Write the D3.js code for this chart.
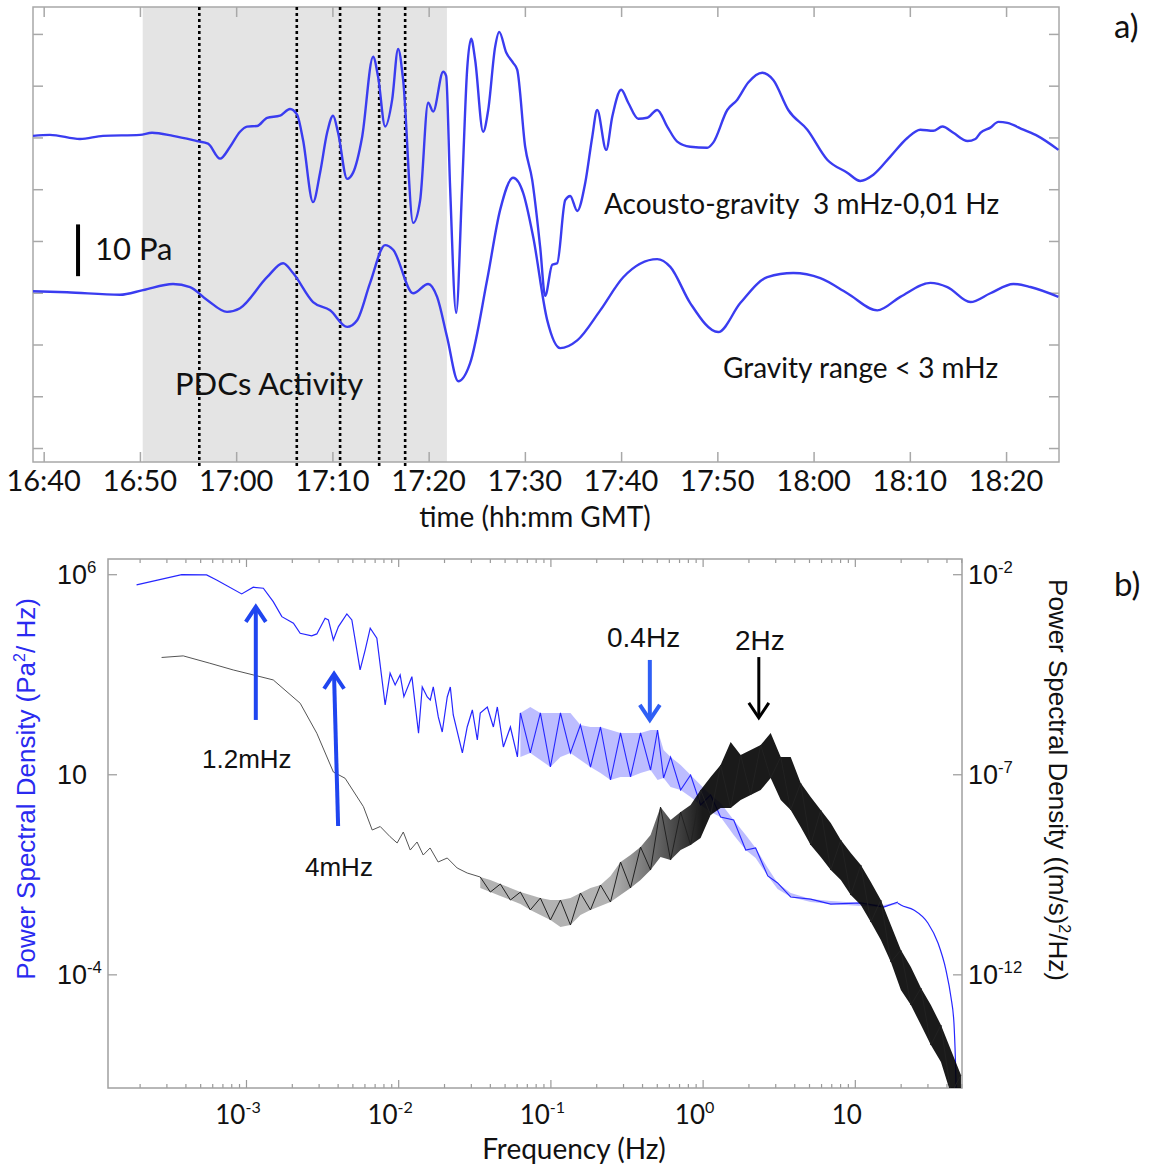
<!DOCTYPE html>
<html>
<head>
<meta charset="utf-8">
<script src="https://cdn.jsdelivr.net/npm/d3@7"></script>
<style>
body { margin: 0; background: #fff; }
text { font-family: Lato, sans-serif; fill: #111; }
.sans { font-family: "Liberation Sans", Arial, sans-serif; }
</style>
</head>
<body>
<svg id="fig" width="1153" height="1166"></svg>
<script>

// ---------- panel a : pressure traces (time in minutes after 16:00, values in Pa) ----------
var acT = [38.89, 40.65, 43.77, 46.16, 50.01, 51.26, 53.44, 55.93, 57.08, 58.33,
  59.37, 60.40, 61.13, 62.17, 63.21, 64.56, 65.60, 66.33, 66.95, 67.99,
  68.72, 69.45, 70.07, 70.59, 71.53, 72.15, 73.09, 74.23, 74.75, 75.48,
  76.21, 76.83, 77.35, 78.39, 79.12, 79.95, 80.47, 81.51, 81.82, 82.23,
  82.86, 83.48, 84.00, 84.42, 84.83, 85.66, 86.19, 86.91, 87.33, 88.06,
  88.78, 89.20, 90.03, 90.76, 91.59, 92.11, 92.84, 93.36, 94.19, 94.71,
  95.44, 96.27, 97.00, 97.51, 98.45, 99.08, 100.01, 100.74, 101.78, 102.71,
  103.75, 104.79, 105.83, 107.18, 108.95, 109.57, 111.03, 112.07, 113.21, 114.67,
  115.81, 117.37, 119.35, 121.42, 123.50, 124.85, 126.21, 127.97, 129.74, 131.09,
  132.44, 133.38, 134.52, 136.00, 136.81, 137.33, 138.37, 139.20, 140.14, 141.80,
  143.26, 145.44];
var acP = [20.3, 20.5, 19.7, 20.3, 20.5, 20.9, 20.3, 19.3, 18.8, 15.9,
  18.2, 21.1, 22.1, 22.2, 23.8, 24.2, 25.5, 24.4, 19.5, 7.5,
  13.2, 20.9, 24.2, 20.9, 12.0, 13.2, 20.1, 35.6, 31.7, 22.1,
  27.3, 37.1, 31.1, 3.5, 7.9, 26.7, 25.0, 32.7, 31.9, 10.4,
  -13.9, 10.4, 33.1, 39.1, 35.0, 21.1, 25.3, 37.5, 40.4, 36.4,
  34.4, 33.1, 18.2, 11.8, -1.2, -10.6, -4.6, -4.3, 7.9, 8.7,
  5.8, 11.2, 20.1, 25.3, 17.6, 24.0, 29.2, 26.7, 23.6, 23.8,
  25.3, 22.1, 19.2, 18.2, 18.0, 19.0, 25.3, 27.3, 30.6, 32.5,
  31.1, 25.3, 21.5, 15.7, 13.2, 11.6, 12.8, 16.3, 19.9, 21.5,
  21.3, 22.1, 20.9, 19.3, 19.7, 20.9, 21.9, 23.0, 22.8, 21.5,
  20.3, 17.6];

var grT = [38.89, 42.42, 47.93, 50.32, 53.44, 55.21, 56.98, 59.05, 60.40, 63.21,
  64.88, 65.91, 67.99, 69.76, 71.53, 72.57, 73.92, 75.48, 76.31, 78.39,
  79.95, 80.88, 81.92, 83.07, 84.31, 86.08, 87.43, 88.78, 89.82, 90.86,
  92.32, 93.67, 95.44, 97.83, 100.22, 103.75, 105.11, 107.18, 110.09, 112.38,
  115.19, 117.89, 120.70, 123.50, 126.62, 129.01, 132.13, 133.90, 136.29, 138.37,
  140.76, 142.53, 145.44];
var grP = [-9.7, -9.9, -10.4, -9.5, -8.3, -8.9, -11.4, -13.7, -13.0, -7.0,
  -4.3, -6.2, -11.8, -13.4, -16.6, -15.3, -8.1, -0.8, -1.7, -10.1,
  -8.3, -10.8, -18.6, -27.1, -23.6, -7.5, 6.0, 12.2, 9.3, 0.8,
  -15.3, -20.7, -19.2, -13.4, -7.0, -3.5, -5.0, -12.0, -17.6, -12.0,
  -7.0, -6.2, -7.2, -10.1, -13.4, -10.8, -8.1, -8.9, -11.8, -10.1,
  -8.3, -8.9, -10.8];

var timeTicks = [40, 50, 60, 70, 80, 90, 100, 110, 120, 130, 140];
var paTicks = [-40, -30, -20, -10, 0, 10, 20, 30, 40];
var pdcSpan = [50.29, 81.9];
var pdcMarks = [56.17, 66.3, 70.8, 74.86, 77.56];
var scaleBar = [43.57, 3.2, -6.8];   // time, top Pa, bottom Pa (10 Pa)

// ---------- panel b : spectra (Hz, Pa^2/Hz on the left, (m/s)^2/Hz on the right) ----------
var blueLow = [[1.91e-4, 5.4e5], [3.78e-4, 9.8e5], [5.51e-4, 9.6e5], [6.41e-4, 7.2e5], [9.37e-4, 3.22e5],
  [1.117e-3, 4.73e5], [1.30e-3, 4.47e5], [1.51e-3, 2.07e5], [1.72e-3, 8.7e4], [2.05e-3, 5.96e4],
  [2.27e-3, 3.35e4], [2.70e-3, 2.87e4], [2.92e-3, 3.22e4], [3.31e-3, 7.94e4], [3.48e-3, 7.2e4],
  [3.75e-3, 2.28e4], [4.05e-3, 4.9e4], [4.60e-3, 1.02e5], [4.96e-3, 7.2e4], [5.62e-3, 4.05e3],
  [6.07e-3, 1.28e4], [6.55e-3, 4.47e4], [7.24e-3, 2.51e4], [8.21e-3, 540], [8.85e-3, 3.35e3],
  [9.55e-3, 1.71e3], [1.03e-2, 3.04e3], [1.09e-2, 871], [1.23e-2, 2.75e3], [1.36e-2, 106],
  [0.01439, 1522], [0.01552, 856], [0.01625, 720], [0.0170, 1522], [0.01834, 271],
  [0.01947, 114], [0.0210, 856], [0.0220, 1522], [0.0230, 304], [0.0264, 34.1],
  [0.0284, 152], [0.0307, 405], [0.0331, 72], [0.0346, 341], [0.0385, 481],
  [0.0422, 152], [0.0448, 481], [0.0491, 48.1], [0.0546, 152], [0.0607, 27.1],
  [0.0635, 341]];

// [frequency, upper envelope, lower envelope]
var blueBand = [[0.0635, 341, 27.1], [0.0738, 481, 34.1], [0.0859, 341, 22.8], [0.100, 341, 15.2],
  [0.1164, 341, 27.1], [0.1354, 341, 34.1], [0.1575, 171, 22.8], [0.1833, 152, 15.2],
  [0.2133, 152, 10.8], [0.2482, 128, 7.2], [0.2888, 108, 8.56], [0.336, 108, 8.56],
  [0.391, 108, 10.8], [0.455, 128, 12.8], [0.506, 128, 7.2], [0.554, 40.5, 8.08],
  [0.616, 27.1, 4.81], [0.717, 17.1, 4.05], [0.834, 9.6, 2.71], [0.970, 5.4, 1.71],
  [1.129, 3.04, 1.14], [1.313, 1.92, 0.856], [1.60, 0.72, 0.304], [1.92, 0.304, 0.128],
  [2.23, 0.144, 0.081], [2.68, 0.0455, 0.0287], [3.11, 0.0192, 0.0136], [3.79, 0.0108, 0.0086],
  [5.13, 0.0076, 0.0064], [6.95, 0.0068, 0.0057], [10.95, 0.0061, 0.0051], [15.5, 0.0054, 0.0048],
  [19.2, 0.0064, 0.0057]];

var blueTail = [[19.2, 0.0060], [20.07, 0.0054], [24.4, 0.00405], [30.2, 0.00192], [35.2, 6.06e-4],
  [39.7, 1.28e-4], [42.8, 2.71e-5], [44.8, 6.06e-6], [45.8, 7.2e-7], [46.5, 7.2e-8]];

var blackLow = [[2.79e-4, 8.3e-5], [3.87e-4, 9.1e-5], [5.79e-4, 5.96e-5], [8.24e-4, 4.05e-5],
  [1.117e-3, 3.04e-5], [1.51e-3, 2.28e-5], [2.27e-3, 5.96e-6], [2.92e-3, 1.06e-6],
  [3.75e-3, 1.14e-7], [4.48e-3, 7.94e-8], [5.91e-3, 1.55e-8], [6.75e-3, 4.05e-9],
  [7.62e-3, 4.95e-9], [8.85e-3, 2.75e-9], [9.84e-3, 1.92e-9], [1.08e-2, 3.61e-9],
  [1.20e-2, 1.28e-9], [1.33e-2, 2.03e-9], [1.46e-2, 9.6e-10], [1.62e-2, 1.44e-9],
  [1.83e-2, 6.42e-10], [2.10e-2, 8.09e-10], [2.44e-2, 4.55e-10], [2.84e-2, 3.41e-10],
  [0.0346, 2.71e-10]];

var blackBand = [[0.0346, 2.71e-10, 1.44e-10], [0.0403, 2.28e-10, 1.14e-10], [0.0469, 1.81e-10, 9.07e-11],
  [0.0546, 1.44e-10, 7.2e-11], [0.0635, 1.14e-10, 5.72e-11], [0.0738, 9.6e-11, 4.07e-11],
  [0.0859, 8.08e-11, 3.04e-11], [0.100, 7.2e-11, 2.28e-11], [0.1164, 7.2e-11, 1.52e-11],
  [0.1354, 8.08e-11, 1.71e-11], [0.1575, 1.08e-10, 3.04e-11], [0.1833, 1.44e-10, 4.07e-11],
  [0.2133, 1.71e-10, 5.1e-11], [0.2482, 2.87e-10, 6.42e-11], [0.2888, 6.42e-10, 9.6e-11],
  [0.336, 9.6e-10, 1.44e-10], [0.391, 1.52e-9, 2.28e-10], [0.455, 3.04e-9, 4.05e-10],
  [0.529, 1.52e-8, 8.56e-10], [0.616, 7.2e-9, 7.2e-10], [0.717, 1.14e-8, 1.28e-9],
  [0.834, 1.71e-8, 1.71e-9], [0.970, 4.05e-8, 2.56e-9], [1.129, 8.56e-8, 9.6e-9],
  [1.313, 1.71e-7, 1.44e-8], [1.528, 6.42e-7, 1.44e-8], [1.778, 3.04e-7, 2.28e-8],
  [2.069, 4.05e-7, 3.04e-8], [2.408, 5.4e-7, 4.05e-8], [2.80, 1.08e-6, 8.08e-8],
  [3.26, 2.71e-7, 2.28e-8], [3.79, 2.71e-7, 1.28e-8], [4.41, 6.06e-8, 4.81e-9],
  [5.13, 2.71e-8, 1.71e-9], [5.97, 1.28e-8, 8.56e-10], [6.95, 6.06e-9, 4.05e-10],
  [8.09, 2.28e-9, 2.28e-10], [9.41, 1.08e-9, 9.6e-11], [10.95, 5.4e-10, 5.4e-11],
  [12.74, 2.03e-10, 2.03e-11], [14.83, 7.2e-11, 7.2e-12], [17.25, 1.71e-11, 2.03e-12],
  [20.07, 4.05e-12, 4.05e-13], [23.35, 1.52e-12, 1.71e-13], [27.2, 4.54e-13, 5.4e-14],
  [31.6, 1.71e-13, 1.71e-14], [36.8, 5.4e-14, 6.42e-15], [42.8, 1.28e-14, 1.02e-15],
  [49.8, 3.04e-15, 4.05e-16]];

var freqDecades = [1e-3, 1e-2, 1e-1, 1, 10];
var freqLabels = [["10", "-3"], ["10", "-2"], ["10", "-1"], ["10", "0"], ["10", ""]];
var leftTicks = [1e6, 10, 1e-4];
var leftLabels = [["10", "6"], ["10", ""], ["10", "-4"]];
var rightTicks = [1e-2, 1e-7, 1e-12];
var rightLabels = [["10", "-2"], ["10", "-7"], ["10", "-12"]];

// arrows: frequency at tail, frequency at tip, tail value, tip value (left axis units)
var arrows = [
  {f0: 1.16e-3, f1: 1.16e-3, v0: 228, v1: 1.52e5, color: "#1f45f0", w: 4, text: "1.2mHz"},
  {f0: 4.03e-3, f1: 3.79e-3, v0: 0.51, v1: 3254, color: "#1f45f0", w: 4, text: "4mHz"},
  {f0: 0.45, f1: 0.45, v0: 7200, v1: 228, color: "#2f5ff5", w: 4, text: "0.4Hz"},
  {f0: 2.34, f1: 2.34, v0: 8500, v1: 257, color: "#000", w: 3, text: "2Hz"}
];

var svg = d3.select("#fig");

// ================= panel a =================
var xa = d3.scaleLinear().domain([38.89, 145.5]).range([33, 1059]);
var ya = d3.scaleLinear().domain([-42.7, 45.2]).range([462, 7]);
var ga = svg.append("g");

ga.append("rect")
  .attr("x", xa(pdcSpan[0])).attr("y", ya.range()[1])
  .attr("width", xa(pdcSpan[1]) - xa(pdcSpan[0]))
  .attr("height", ya.range()[0] - ya.range()[1])
  .attr("fill", "#e4e4e4");

function fmtTime(m) {
  var h = 16 + Math.floor(m / 60), mm = m % 60;
  return h + ":" + (mm < 10 ? "0" : "") + mm;
}

// axes with inward ticks on all four sides
ga.append("g").attr("transform", "translate(0," + ya.range()[0] + ")")
  .call(d3.axisBottom(xa).tickValues(timeTicks).tickSize(-10).tickFormat(""));
ga.append("g").attr("transform", "translate(0," + ya.range()[1] + ")")
  .call(d3.axisTop(xa).tickValues(timeTicks).tickSize(-10).tickFormat(""));
ga.append("g").attr("transform", "translate(" + xa.range()[0] + ",0)")
  .call(d3.axisLeft(ya).tickValues(paTicks).tickSize(-10).tickFormat(""));
ga.append("g").attr("transform", "translate(" + xa.range()[1] + ",0)")
  .call(d3.axisRight(ya).tickValues(paTicks).tickSize(-10).tickFormat(""));
ga.selectAll(".domain").remove();
ga.selectAll(".tick line").attr("stroke", "#a8a8a8").attr("stroke-width", 1.5);

ga.append("rect")
  .attr("x", xa.range()[0]).attr("y", ya.range()[1])
  .attr("width", xa.range()[1] - xa.range()[0])
  .attr("height", ya.range()[0] - ya.range()[1])
  .attr("fill", "none").attr("stroke", "#a8a8a8").attr("stroke-width", 1.5);

ga.selectAll(".tlab").data(timeTicks).enter().append("text")
  .attr("x", function(d) { return xa(d); })
  .attr("y", 491)
  .attr("text-anchor", "middle")
  .style("font-size", "29px")
  .text(fmtTime);

ga.append("text").attr("x", 535).attr("y", 527).attr("text-anchor", "middle")
  .style("font-size", "28px").text("time (hh:mm GMT)");

// dotted PDC markers
ga.selectAll(".pdc").data(pdcMarks).enter().append("line")
  .attr("x1", function(d) { return xa(d); }).attr("x2", function(d) { return xa(d); })
  .attr("y1", ya.range()[1]).attr("y2", ya.range()[0] + 5)
  .attr("stroke", "#000").attr("stroke-width", 2.6).attr("stroke-dasharray", "3,3");

var lineA = d3.line()
  .x(function(d) { return xa(d[0]); })
  .y(function(d) { return ya(d[1]); })
  .curve(d3.curveMonotoneX);

ga.append("path").datum(d3.zip(acT, acP)).attr("d", lineA)
  .attr("fill", "none").attr("stroke", "#3a3cf0").attr("stroke-width", 2.4);
ga.append("path").datum(d3.zip(grT, grP)).attr("d", lineA)
  .attr("fill", "none").attr("stroke", "#3a3cf0").attr("stroke-width", 2.4);

// 10 Pa scale bar
ga.append("line")
  .attr("x1", xa(scaleBar[0])).attr("x2", xa(scaleBar[0]))
  .attr("y1", ya(scaleBar[1])).attr("y2", ya(scaleBar[2]))
  .attr("stroke", "#000").attr("stroke-width", 4);
ga.append("text").attr("x", 95).attr("y", 260).style("font-size", "31px").text("10 Pa");

ga.append("text").attr("x", 175).attr("y", 395).style("font-size", "31px").text("PDCs Activity");
ga.append("text").attr("x", 604).attr("y", 214).style("font-size", "28px")
  .attr("xml:space", "preserve").text("Acousto-gravity  3 mHz-0,01 Hz");
ga.append("text").attr("x", 723).attr("y", 378).style("font-size", "28px").text("Gravity range < 3 mHz");
ga.append("text").attr("x", 1114).attr("y", 38).style("font-size", "33px").text("a)");

// ================= panel b =================
var xb = d3.scaleLog().domain([1.24e-4, 50.6]).range([108, 962]);
var ybL = d3.scaleLog().domain([1.445e-7, 2.4e6]).range([1088, 559]);
var ybR = d3.scaleLog().domain([1.445e-15, 2.4e-2]).range([1088, 559]);
var gb = svg.append("g");

var defs = gb.append("defs");
defs.append("clipPath").attr("id", "clipb").append("rect")
  .attr("x", xb.range()[0]).attr("y", ybL.range()[1])
  .attr("width", xb.range()[1] - xb.range()[0])
  .attr("height", ybL.range()[0] - ybL.range()[1]);

// seismic band gets darker where the trace becomes dense
var grad = defs.append("linearGradient").attr("id", "seisFill")
  .attr("gradientUnits", "userSpaceOnUse")
  .attr("x1", xb(0.25)).attr("x2", xb(1.0)).attr("y1", 0).attr("y2", 0);
grad.append("stop").attr("offset", 0).attr("stop-color", "#000").attr("stop-opacity", 0.3);
grad.append("stop").attr("offset", 1).attr("stop-color", "#000").attr("stop-opacity", 0.9);

var minorTicks = xb.ticks().filter(function(d) {
  return freqDecades.indexOf(d) < 0;
});

function tickAxis(axis, vals, size) {
  return axis.tickValues(vals).tickSize(size).tickFormat("");
}
gb.append("g").attr("transform", "translate(0," + ybL.range()[0] + ")")
  .call(tickAxis(d3.axisBottom(xb), freqDecades, -8));
gb.append("g").attr("transform", "translate(0," + ybL.range()[0] + ")")
  .call(tickAxis(d3.axisBottom(xb), minorTicks, -4));
gb.append("g").attr("transform", "translate(0," + ybL.range()[1] + ")")
  .call(tickAxis(d3.axisTop(xb), freqDecades, -8));
gb.append("g").attr("transform", "translate(0," + ybL.range()[1] + ")")
  .call(tickAxis(d3.axisTop(xb), minorTicks, -4));
gb.append("g").attr("transform", "translate(" + xb.range()[0] + ",0)")
  .call(tickAxis(d3.axisLeft(ybL), leftTicks, -9));
gb.append("g").attr("transform", "translate(" + xb.range()[1] + ",0)")
  .call(tickAxis(d3.axisRight(ybR), rightTicks, -9));
gb.selectAll(".domain").remove();
gb.selectAll(".tick line").attr("stroke", "#999").attr("stroke-width", 1.2);

gb.append("rect")
  .attr("x", xb.range()[0]).attr("y", ybL.range()[1])
  .attr("width", xb.range()[1] - xb.range()[0])
  .attr("height", ybL.range()[0] - ybL.range()[1])
  .attr("fill", "none").attr("stroke", "#a0a0a0").attr("stroke-width", 1.5);

function supText(sel, lab, sz) {
  sel.append("tspan").text(lab[0]);
  if (lab[1]) sel.append("tspan").attr("dy", -sz * 0.42).style("font-size", (sz * 0.62) + "px").text(lab[1]);
}

freqDecades.forEach(function(v, i) {
  var t = gb.append("text").attr("x", xb(v) - 8).attr("y", 1124)
    .attr("text-anchor", "middle").style("font-size", "26px");
  supText(t, freqLabels[i], 26);
});
leftTicks.forEach(function(v, i) {
  var t = gb.append("text").attr("class", "sans").attr("x", 57).attr("y", ybL(v) + 10)
    .style("font-size", "27px");
  supText(t, leftLabels[i], 27);
});
rightTicks.forEach(function(v, i) {
  var t = gb.append("text").attr("class", "sans").attr("x", 968).attr("y", ybR(v) + 10)
    .style("font-size", "27px");
  supText(t, rightLabels[i], 27);
});

gb.append("text").attr("x", 574).attr("y", 1159).attr("text-anchor", "middle")
  .style("font-size", "28px").text("Frequency (Hz)");

var yl = gb.append("text").attr("class", "sans")
  .attr("transform", "translate(35,789) rotate(-90)")
  .attr("text-anchor", "middle").style("font-size", "26px").style("fill", "#2a2af0");
yl.append("tspan").text("Power Spectral Density (Pa");
yl.append("tspan").attr("dy", -10).style("font-size", "16px").text("2");
yl.append("tspan").attr("dy", 10).text("/ Hz)");

var yr = gb.append("text").attr("class", "sans")
  .attr("transform", "translate(1049,780) rotate(90)")
  .attr("text-anchor", "middle").style("font-size", "26px");
yr.append("tspan").text("Power Spectral Density ((m/s)");
yr.append("tspan").attr("dy", -10).style("font-size", "16px").text("2");
yr.append("tspan").attr("dy", 10).text("/Hz)");

gb.append("text").attr("x", 1114).attr("y", 596).style("font-size", "33px").text("b)");

// spectra
var gd = gb.append("g").attr("clip-path", "url(#clipb)");

function lineB(ys) {
  return d3.line().x(function(d) { return xb(d[0]); }).y(function(d) { return ys(d[1]); });
}
function areaB(ys) {
  return d3.area().x(function(d) { return xb(d[0]); })
    .y0(function(d) { return ys(d[2]); }).y1(function(d) { return ys(d[1]); });
}
// trace the noisy part by alternating the peak and trough readings
function zig(band) {
  return band.map(function(d, i) { return [d[0], i % 2 ? d[2] : d[1]]; });
}

var blue = "#2626ff";
gd.append("path").datum(blueBand).attr("d", areaB(ybL))
  .attr("fill", blue).attr("fill-opacity", 0.3);
gd.append("path").datum(zig(blueBand)).attr("d", lineB(ybL))
  .attr("fill", "none").attr("stroke", blue).attr("stroke-width", 1.1);
gd.append("path").datum(blueLow).attr("d", lineB(ybL))
  .attr("fill", "none").attr("stroke", blue).attr("stroke-width", 1.2);
gd.append("path").datum(blueTail).attr("d", lineB(ybL).curve(d3.curveMonotoneX))
  .attr("fill", "none").attr("stroke", blue).attr("stroke-width", 1.2);

gd.append("path").datum(blackLow).attr("d", lineB(ybR))
  .attr("fill", "none").attr("stroke", "#555").attr("stroke-width", 1);
gd.append("path").datum(blackBand).attr("d", areaB(ybR))
  .attr("fill", "url(#seisFill)");
gd.append("path").datum(zig(blackBand)).attr("d", lineB(ybR))
  .attr("fill", "none").attr("stroke", "#222").attr("stroke-width", 1);

// annotation arrows
arrows.forEach(function(a) {
  var x0 = xb(a.f0), y0 = ybL(a.v0), x1 = xb(a.f1), y1 = ybL(a.v1);
  var dir = y1 < y0 ? 1 : -1;
  gb.append("line").attr("x1", x0).attr("y1", y0).attr("x2", x1).attr("y2", y1 + dir * 2)
    .attr("stroke", a.color).attr("stroke-width", a.w);
  gb.append("path")
    .attr("d", "M" + (x1 - 10) + "," + (y1 + dir * 15) + "L" + x1 + "," + y1 + "L" + (x1 + 10) + "," + (y1 + dir * 15))
    .attr("fill", "none").attr("stroke", a.color).attr("stroke-width", a.w)
    .attr("stroke-linejoin", "miter");
});
var annot = [[202, 768, 26], [305, 876, 26], [607, 647, 28], [735, 650, 28]];
arrows.forEach(function(a, i) {
  gb.append("text").attr("class", "sans").attr("x", annot[i][0]).attr("y", annot[i][1])
    .style("font-size", annot[i][2] + "px").text(a.text);
});

</script>
</body>
</html>
